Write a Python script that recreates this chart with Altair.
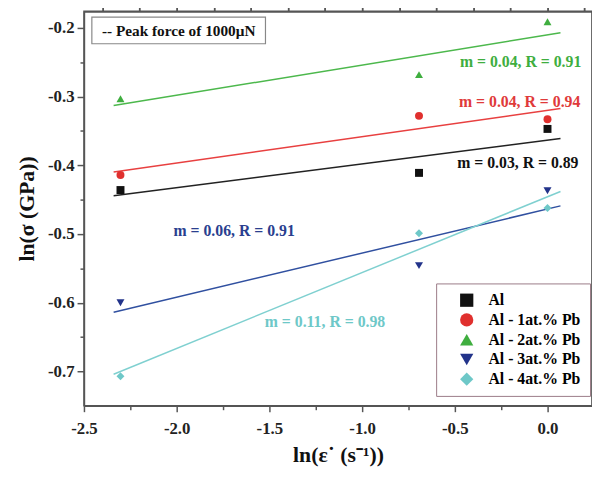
import altair as alt
import pandas as pd

# ---- data ----
series = ["Al", "Al - 1at.% Pb", "Al - 2at.% Pb", "Al - 3at.% Pb", "Al - 4at.% Pb"]
x_vals = [-2.303, -0.693, 0.0]
y_al = [-0.436, -0.411, -0.347]
y_al1 = [-0.414, -0.328, -0.333]
y_al2 = [-0.303, -0.268, -0.191]
y_al3 = [-0.600, -0.546, -0.437]
y_al4 = [-0.707, -0.499, -0.462]

point_colors = ["#111111", "#e0302e", "#3fae3f", "#22338a", "#6ec8c8"]
line_colors = ["#222222", "#e84040", "#4cb84c", "#3050a0", "#7fd0d0"]
shapes = ["square", "circle", "triangle-up", "triangle-down", "diamond"]

label_text = ["m = 0.03, R = 0.89", "m = 0.04, R = 0.94", "m = 0.04, R = 0.91",
              "m = 0.06, R = 0.91", "m = 0.11, R = 0.98"]
label_x = [-0.16, -0.15, -0.145, -1.69, -1.20]
label_y = [-0.397, -0.308, -0.250, -0.495, -0.628]
label_colors = ["#111111", "#e03a3a", "#3fae3f", "#2a3f8f", "#6ec8c8"]

x_major = [-2.5, -2.0, -1.5, -1.0, -0.5, 0.0]
x_minor = [-2.25, -1.75, -1.25, -0.75, -0.25]
y_major = [-0.2, -0.3, -0.4, -0.5, -0.6, -0.7]
y_minor = [-0.25, -0.35, -0.45, -0.55, -0.65]

FONT = "Liberation Serif"
LABEL_EXPR = "replace(format(datum.value, '.1f'), '\u2212', '-')"

rows = []
for s, ys, lc in zip(series, [y_al, y_al1, y_al2, y_al3, y_al4], line_colors):
    for xv, yv in zip(x_vals, ys):
        rows.append({"series": s, "x": xv, "y": yv, "lc": lc})
df = pd.DataFrame(rows)
lab = pd.DataFrame({"x": label_x, "y": label_y, "text": label_text, "c": label_colors})

xscale = alt.Scale(domain=[-2.5, 0.24], nice=False, zero=False)
yscale = alt.Scale(domain=[-0.75, -0.1756], nice=False, zero=False)

xaxis = alt.Axis(values=x_major, labelExpr=LABEL_EXPR, title="ln(ε˙ (s⁻¹))", grid=False,
                 tickSize=6, labelPadding=9, titlePadding=9, labelFlush=False)
yaxis = alt.Axis(values=y_major, labelExpr=LABEL_EXPR, title="ln(σ (GPa))", grid=False,
                 tickSize=7, labelPadding=3, titlePadding=9, labelFlush=False)

base = alt.Chart(df)

lines = base.transform_regression(
    "x", "y", groupby=["series", "lc"], extent=[-2.34, 0.07]
).mark_line(strokeWidth=1.5).encode(
    x=alt.X("x:Q", scale=xscale, axis=xaxis),
    y=alt.Y("y:Q", scale=yscale, axis=yaxis),
    color=alt.Color("lc:N", scale=None),
    detail="series:N",
)

legend = alt.Legend(title=None, orient="none", legendX=357, legendY=276,
                    padding=9, rowPadding=4, symbolSize=180,
                    symbolStrokeWidth=0, labelFont=FONT,
                    labelFontSize=16, labelFontWeight="bold",
                    labelOffset=14, strokeColor="#9a7a86",
                    fillColor="white", symbolOffset=14)

points = base.mark_point(filled=True, size=65, opacity=1).encode(
    x=alt.X("x:Q", scale=xscale),
    y=alt.Y("y:Q", scale=yscale),
    color=alt.Color("series:N", scale=alt.Scale(domain=series, range=point_colors),
                    legend=legend),
    shape=alt.Shape("series:N", scale=alt.Scale(domain=series, range=shapes),
                    legend=legend),
)

texts = alt.Chart(lab).mark_text(font=FONT, fontSize=16, fontWeight="bold").encode(
    x=alt.X("x:Q", scale=xscale),
    y=alt.Y("y:Q", scale=yscale),
    text="text:N",
    color=alt.Color("c:N", scale=None),
)

minor_x = alt.Chart(pd.DataFrame({"x": [-2.5]})).mark_point(opacity=0).encode(
    x=alt.X("x:Q", scale=xscale,
            axis=alt.Axis(values=x_minor, labels=False, title=None, grid=False,
                          tickSize=4, domain=False, orient="bottom")),
)
minor_y = alt.Chart(pd.DataFrame({"y": [-0.7]})).mark_point(opacity=0).encode(
    y=alt.Y("y:Q", scale=yscale,
            axis=alt.Axis(values=y_minor, labels=False, title=None, grid=False,
                          tickSize=4, domain=False, orient="left")),
)

box = alt.Chart(pd.DataFrame({"a": [0]})).mark_rect(
    fill="white", stroke="#888888", strokeWidth=1.2
).encode(x=alt.value(8), x2=alt.value(184), y=alt.value(6), y2=alt.value(33))
box_text = alt.Chart(pd.DataFrame({"t": ["-- Peak force of 1000μN"]})).mark_text(
    font=FONT, fontSize=15.5, fontWeight="bold", color="#111111"
).encode(x=alt.value(96), y=alt.value(20), text="t:N")

chart = alt.layer(lines, points, texts, minor_x, minor_y, box, box_text).resolve_axis(
    x="independent", y="independent"
).properties(
    width=515, height=400,
    autosize=alt.AutoSizeParams(type="none"),
    padding={"left": 77, "top": 0, "right": 0, "bottom": 69},
).configure_view(
    stroke="#555555", strokeWidth=1.5
).configure_axis(
    labelFont=FONT, labelFontSize=17, labelFontWeight="bold", labelColor="#222222",
    titleFont=FONT, titleFontSize=22, titleFontWeight="bold", titleColor="#111111",
    domainColor="#555555", domainWidth=1.5, tickColor="#555555", tickWidth=1.5,
)

chart.save("out.html", embed_options={"renderer": "svg", "actions": False})
